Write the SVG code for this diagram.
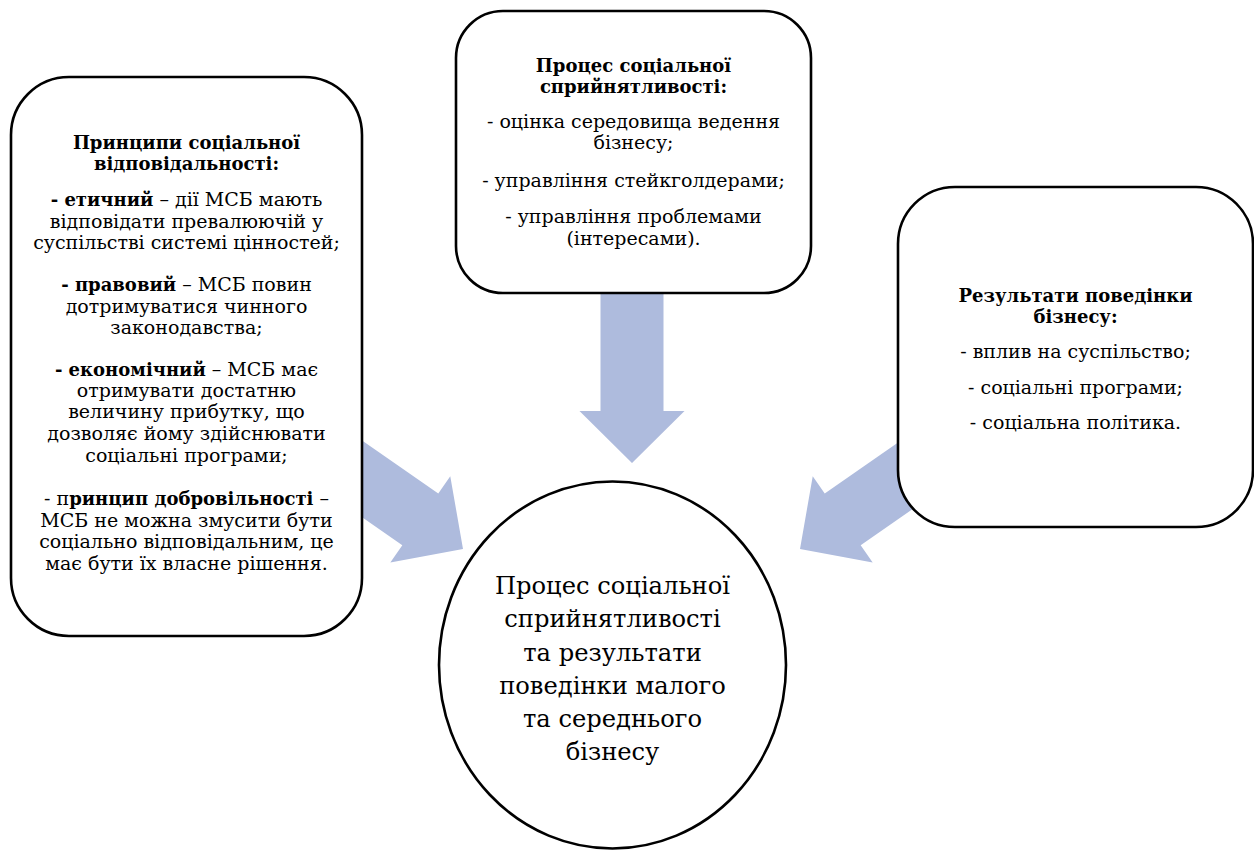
<svg xmlns="http://www.w3.org/2000/svg" width="1254" height="850" viewBox="0 0 1254 850">
<style>
  .box { fill: #ffffff; stroke: #000000; stroke-width: 2.6; }
  .arrow { fill: #AEBBDD; stroke: none; }
  .t { font-family: 'DejaVu Serif', serif; font-size: 19px; fill: #000000; text-anchor: middle; }
  .big { font-family: 'DejaVu Serif', serif; font-size: 24.2px; fill: #000000; text-anchor: middle; }
  .b { font-weight: bold; font-size: 18px; }
</style>
<defs>
  <path id="arr" d="M -200,-31.5 H -52 V -52.5 L 0,0 L -52,52.5 V 31.5 H -200 Z"/>
</defs>
<rect width="1254" height="850" fill="#ffffff"/>
<g id="connectors">
  <use href="#arr" class="arrow" transform="translate(632,463) rotate(90)"/>
  <use href="#arr" class="arrow" transform="translate(463,549) rotate(34.8)"/>
  <use href="#arr" class="arrow" transform="translate(800,549) rotate(145.2)"/>
</g>
<g id="node-principles">
  <rect class="box" x="11" y="77" width="351" height="559" rx="58" ry="58"/>
  <text class="t"><tspan class="b" x="186.5" y="149">Принципи соціальної</tspan><tspan class="b" x="186.5" y="170">відповідальності:</tspan><tspan x="186.5" y="206"><tspan class="b">- етичний</tspan> – дії МСБ мають</tspan><tspan x="186.5" y="228">відповідати превалюючій у</tspan><tspan x="186.5" y="249">суспільстві системі цінностей;</tspan><tspan x="186.5" y="291"><tspan class="b">- правовий</tspan> – МСБ повин</tspan><tspan x="186.5" y="313">дотримуватися чинного</tspan><tspan x="186.5" y="334">законодавства;</tspan><tspan x="186.5" y="376"><tspan class="b">- економічний</tspan> – МСБ має</tspan><tspan x="186.5" y="397">отримувати достатню</tspan><tspan x="186.5" y="418">величину прибутку, що</tspan><tspan x="186.5" y="440">дозволяє йому здійснювати</tspan><tspan x="186.5" y="462">соціальні програми;</tspan><tspan x="186.5" y="505">- п<tspan class="b">ринцип добровільності</tspan> –</tspan><tspan x="186.5" y="527">МСБ не можна змусити бути</tspan><tspan x="186.5" y="548">соціально відповідальним, це</tspan><tspan x="186.5" y="570">має бути їх власне рішення.</tspan></text>
</g>
<g id="node-process">
  <rect class="box" x="456" y="11" width="355" height="282" rx="47" ry="47"/>
  <text class="t"><tspan class="b" x="633.5" y="72">Процес соціальної</tspan><tspan class="b" x="633.5" y="93">сприйнятливості:</tspan><tspan x="633.5" y="128">- оцінка середовища ведення</tspan><tspan x="633.5" y="149">бізнесу;</tspan><tspan x="633.5" y="187">- управління стейкголдерами;</tspan><tspan x="633.5" y="223">- управління проблемами</tspan><tspan x="633.5" y="245">(інтересами).</tspan></text>
</g>
<g id="node-results">
  <rect class="box" x="898" y="187" width="355" height="340" rx="57" ry="57"/>
  <text class="t"><tspan class="b" x="1075.5" y="302">Результати поведінки</tspan><tspan class="b" x="1075.5" y="323">бізнесу:</tspan><tspan x="1075.5" y="358">- вплив на суспільство;</tspan><tspan x="1075.5" y="394">- соціальні програми;</tspan><tspan x="1075.5" y="429">- соціальна політика.</tspan></text>
</g>
<g id="node-center">
  <ellipse class="box" cx="612.5" cy="665" rx="173.5" ry="183.5"/>
  <text class="big"><tspan x="612.5" y="594">Процес соціальної</tspan><tspan x="612.5" y="627">сприйнятливості</tspan><tspan x="612.5" y="661">та результати</tspan><tspan x="612.5" y="694">поведінки малого</tspan><tspan x="612.5" y="727">та середнього</tspan><tspan x="612.5" y="760">бізнесу</tspan></text>
</g>
</svg>
